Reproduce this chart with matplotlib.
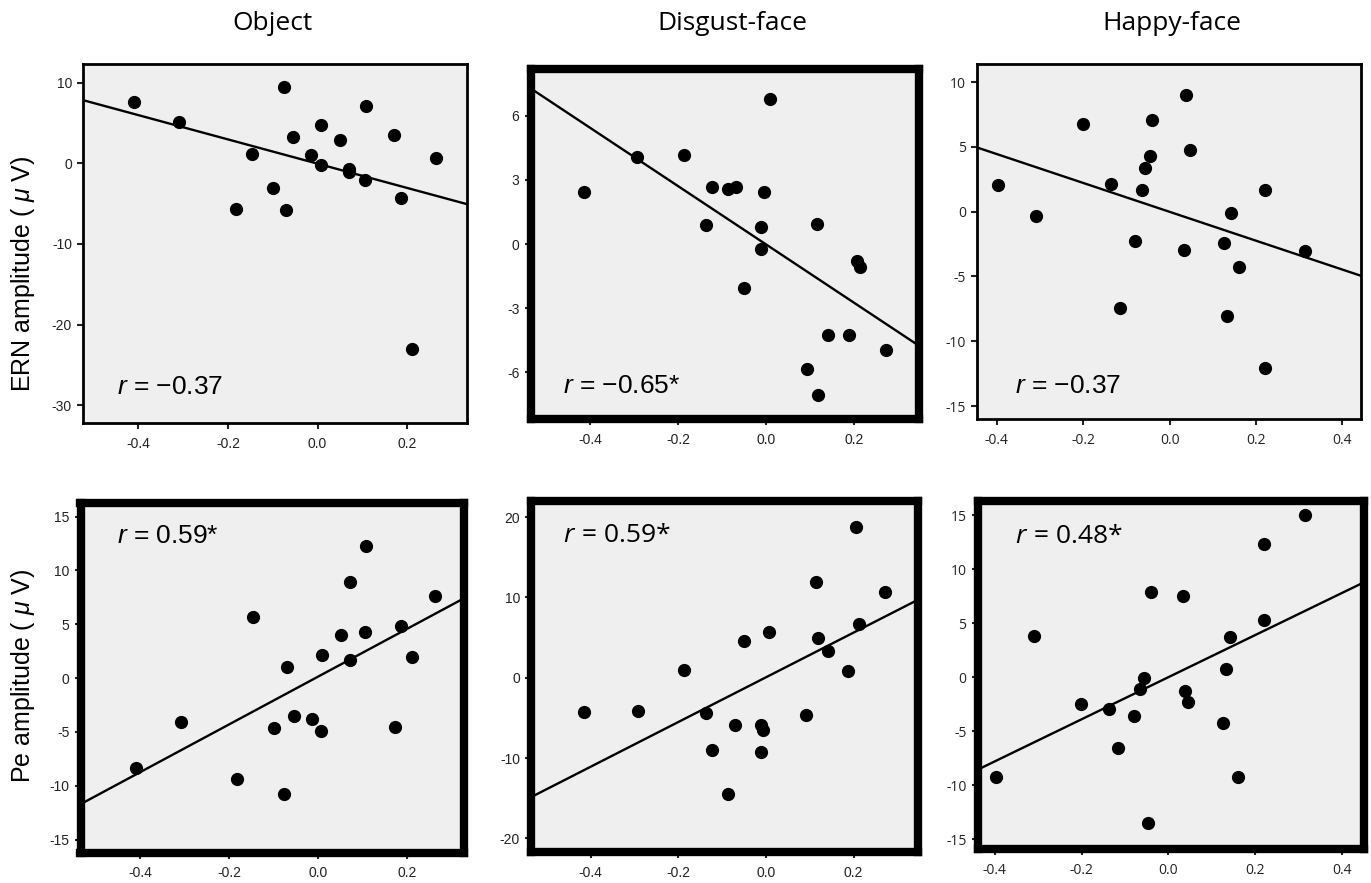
import numpy as np
import matplotlib
matplotlib.use("Agg")
import matplotlib.pyplot as plt

plt.rcParams['font.family'] = ['Liberation Sans', 'DejaVu Sans']
plt.rcParams['axes.unicode_minus'] = False
plt.rcParams['mathtext.fontset'] = 'custom'
plt.rcParams['mathtext.rm'] = 'Liberation Sans'
plt.rcParams['mathtext.it'] = 'Liberation Sans:italic'

# data
conditions = ["Object", "Disgust-face", "Happy-face"]
row_labels = ["ERN amplitude ( $\\mu$ V)", "Pe amplitude ( $\\mu$ V)"]

x_object = [-0.41, -0.308, -0.182, -0.146, -0.10, -0.076, -0.07, -0.054, -0.014, 0.007,
            0.008, 0.05, 0.07, 0.071, 0.105, 0.107, 0.171, 0.185, 0.21, 0.263]
x_disgust = [-0.415, -0.293, -0.187, -0.137, -0.124, -0.087, -0.070, -0.051, -0.012, -0.012,
             -0.006, 0.008, 0.092, 0.115, 0.118, 0.141, 0.188, 0.206, 0.212, 0.272]
x_happy = [-0.397, -0.31, -0.201, -0.136, -0.115, -0.08, -0.065, -0.056, -0.046, -0.04,
           0.033, 0.038, 0.046, 0.125, 0.133, 0.143, 0.16, 0.22, 0.221, 0.314]

ern_object = [7.65, 5.09, -5.64, 1.12, -3.09, 9.5, -5.77, 3.31, 0.96, 4.8,
              -0.24, 2.86, -0.69, -1.06, -2.14, 7.15, 3.48, -4.37, -23.07, 0.71]
ern_disgust = [2.46, 4.07, 4.18, 0.89, 2.68, 2.59, 2.68, -2.04, 0.80, -0.23,
               2.46, 6.78, -5.86, 0.95, -7.09, -4.25, -4.25, -0.79, -1.06, -4.96]
ern_happy = [2.05, -0.36, 6.8, 2.15, -7.46, -2.24, 1.71, 3.36, 4.29, 7.11,
             -2.96, 8.97, 4.73, -2.42, -8.08, -0.07, -4.26, -12.03, 1.68, -3.04]

pe_object = [-8.37, -4.1, -9.4, 5.71, -4.63, -10.79, 1.01, -3.51, -3.82, -4.94,
             2.12, 4.04, 8.96, 1.63, 4.29, 12.24, -4.54, 4.85, 1.97, 7.66]
pe_disgust = [-4.24, -4.2, 1.01, -4.41, -9.04, -14.5, -5.94, 4.61, -5.94, -9.25,
              -6.47, 5.69, -4.61, 11.89, 4.98, 3.29, 0.85, 18.8, 6.64, 10.61]
pe_happy = [-9.2, 3.77, -2.5, -2.96, -6.53, -3.59, -1.13, -0.11, -13.45, 7.86,
            7.49, -1.29, -2.34, -4.24, 0.79, 3.71, -9.2, 5.32, 12.3, 15.0]

ern_r = ["\u22120.37", "\u22120.65*", "\u22120.37"]
pe_r = ["0.59*", "0.59*", "0.48*"]

xs = [x_object, x_disgust, x_happy]
ys = [[ern_object, ern_disgust, ern_happy], [pe_object, pe_disgust, pe_happy]]
rs = [ern_r, pe_r]

# panel frames in pixels (left, right, top, bottom) and axis limits
W, H = 1371, 883
boxes = [[(83, 467, 64, 423), (530.5, 919, 69, 419), (977, 1361, 64, 419)],
         [(80.5, 464, 502.5, 852.5), (531, 918, 501, 852), (977.5, 1364, 501, 849)]]
xlims = [[(-0.523, 0.333), (-0.536, 0.347), (-0.446, 0.443)],
         [(-0.534, 0.327), (-0.536, 0.347), (-0.44, 0.451)]]
ylims = [[(-32.2, 12.3), (-8.2, 8.2), (-16.0, 11.4)],
         [(-16.2, 16.3), (-21.7, 22.0), (-15.9, 16.3)]]
yticks = [[[-30, -20, -10, 0, 10], [-6, -3, 0, 3, 6], [-15, -10, -5, 0, 5, 10]],
          [[-15, -10, -5, 0, 5, 10, 15], [-20, -10, 0, 10, 20], [-15, -10, -5, 0, 5, 10, 15]]]
xticks = [[-0.4, -0.2, 0.0, 0.2], [-0.4, -0.2, 0.0, 0.2], [-0.4, -0.2, 0.0, 0.2, 0.4]]
text_pos = [[(0.089, 0.081), (0.084, 0.074), (0.099, 0.073)],
            [(0.095, 0.885), (0.083, 0.884), (0.097, 0.88)]]
# the source panels mix two typefaces
arial = ['Liberation Sans', 'DejaVu Sans']
myriad = ['Open Sans', 'DejaVu Sans']
tick_fonts = [arial, arial, myriad]
r_fonts = [[arial, arial, arial], [arial, myriad, myriad]]

fig = plt.figure(figsize=(W / 100, H / 100), dpi=100)

for i in range(2):
    for j in range(3):
        l, r, t, b = boxes[i][j]
        ax = fig.add_axes([l / W, 1 - b / H, (r - l) / W, (b - t) / H])
        ax.set_facecolor('#efefef')
        x = np.array(xs[j])
        y = np.array(ys[i][j])
        ax.set_xlim(xlims[i][j])
        ax.set_ylim(ylims[i][j])
        coef = np.polyfit(x, y, 1)
        xl = np.array(xlims[i][j])
        ax.plot(xl, np.polyval(coef, xl), color='black', lw=1.7, zorder=2)
        ax.plot(x, y, 'o', color='black', ms=8.5, zorder=3)
        ax.set_xticks(xticks[j])
        ax.set_xticklabels(["%.1f" % v for v in xticks[j]])
        ax.set_yticks(yticks[i][j])
        ax.set_yticklabels([str(v) for v in yticks[i][j]])
        ax.tick_params(direction='out', length=4, width=1.5, labelsize=10, pad=4,
                       colors='#222222')
        for lab in ax.get_xticklabels() + ax.get_yticklabels():
            lab.set_family(tick_fonts[j])
        ax.tick_params(axis='x', pad=6)
        lw = 6 if rs[i][j].endswith('*') else 2
        for s in ax.spines.values():
            s.set_linewidth(lw)
        tx, ty = text_pos[i][j]
        fam = r_fonts[i][j]
        if fam is myriad:
            ax.text(tx, ty, "r", transform=ax.transAxes, fontsize=19, style='italic',
                    family=fam, va='baseline', ha='left')
            ax.text(tx + 0.03, ty, " = " + rs[i][j], transform=ax.transAxes,
                    fontsize=19, family=fam, va='baseline', ha='left')
        else:
            ax.text(tx, ty, "$r$ = " + rs[i][j], transform=ax.transAxes,
                    fontsize=19, va='baseline', ha='left')

title_x = [272, 732, 1172]
for j in range(3):
    fig.text(title_x[j] / W, 1 - 24 / H, conditions[j], fontsize=19,
             family=myriad, ha='center', va='center')

fig.text(23 / W, 1 - 274 / H, row_labels[0], rotation=90, fontsize=18,
         ha='center', va='center')
fig.text(23 / W, 1 - 676 / H, row_labels[1], rotation=90, fontsize=18,
         ha='center', va='center')

fig.savefig("out.png", dpi=100, facecolor='white')
